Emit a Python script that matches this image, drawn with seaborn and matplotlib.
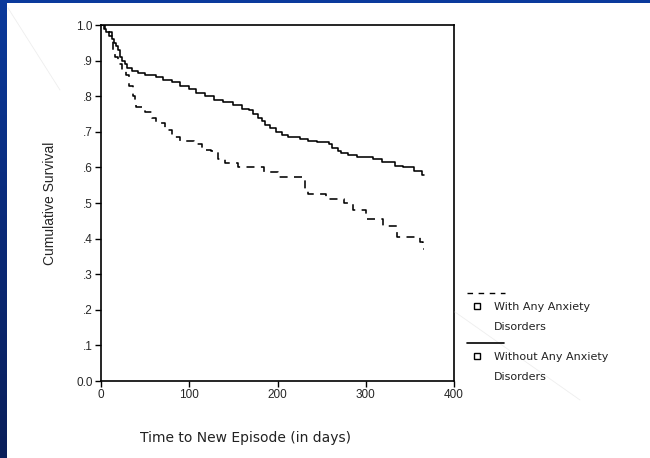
import numpy as np
import pandas as pd
import matplotlib
matplotlib.use("Agg")
import matplotlib.pyplot as plt
from matplotlib.lines import Line2D
from matplotlib.colors import LinearSegmentedColormap
import seaborn as sns

# ---- data ----
time_without = [0, 3, 6, 9, 12, 15, 17, 19, 21, 24, 27, 30, 35, 42, 50, 62, 70, 80, 90, 100,
                108, 118, 128, 138, 150, 160, 168, 172, 178, 182, 186, 192, 198, 205, 212, 226,
                234, 245, 258, 262, 268, 272, 280, 290, 308, 318, 333, 342, 355, 364, 366]
surv_without = [1.0, 0.99, 0.98, 0.97, 0.96, 0.95, 0.94, 0.93, 0.91, 0.90, 0.89, 0.88, 0.87,
                0.865, 0.86, 0.855, 0.845, 0.84, 0.83, 0.82, 0.81, 0.80, 0.79, 0.785, 0.775,
                0.765, 0.76, 0.75, 0.74, 0.73, 0.72, 0.71, 0.70, 0.69, 0.685, 0.68, 0.675, 0.67,
                0.665, 0.655, 0.645, 0.64, 0.635, 0.63, 0.625, 0.615, 0.605, 0.60, 0.59, 0.58, 0.58]

time_with = [0, 5, 9, 12, 14, 16, 19, 24, 28, 32, 36, 38, 40, 50, 58, 62, 73, 80, 90, 105,
             115, 125, 133, 140, 155, 185, 200, 231, 234, 255, 275, 285, 300, 320, 335, 362, 365, 366]
surv_with = [1.0, 0.99, 0.98, 0.96, 0.93, 0.91, 0.89, 0.875, 0.86, 0.83, 0.80, 0.78, 0.77,
             0.755, 0.74, 0.725, 0.705, 0.685, 0.675, 0.665, 0.65, 0.645, 0.625, 0.612, 0.60,
             0.587, 0.572, 0.54, 0.525, 0.51, 0.50, 0.48, 0.455, 0.435, 0.405, 0.39, 0.37, 0.37]

group_labels = [["With Any Anxiety", "Disorders"], ["Without Any Anxiety", "Disorders"]]
x_ticks = [0, 100, 200, 300, 400]
y_ticks = [0.0, 0.1, 0.2, 0.3, 0.4, 0.5, 0.6, 0.7, 0.8, 0.9, 1.0]
y_ticklabels = ["0.0", ".1", ".2", ".3", ".4", ".5", ".6", ".7", ".8", ".9", "1.0"]

df = pd.concat([
    pd.DataFrame({"t": time_with, "s": surv_with, "g": "with"}),
    pd.DataFrame({"t": time_without, "s": surv_without, "g": "without"}),
])

sns.set_style("white")
plt.rcParams["font.family"] = ["Liberation Sans", "DejaVu Sans"]

fig = plt.figure(figsize=(6.5, 4.58), dpi=100)
fig.patch.set_facecolor("white")

# slide decoration: blue strips
grad = np.linspace(0, 1, 256).reshape(-1, 1)
cmap = LinearSegmentedColormap.from_list("b", ["#0b3a9c", "#0a2a78", "#0a1f5a"])
bax = fig.add_axes([0, 0, 7 / 650, 1])
bax.imshow(grad, aspect="auto", cmap=cmap, extent=[0, 1, 0, 1])
bax.axis("off")
tax = fig.add_axes([0, 1 - 2.5 / 458, 1, 2.5 / 458])
tax.set_facecolor("#0b3a9c")
tax.set_xticks([]); tax.set_yticks([])
for s in tax.spines.values():
    s.set_visible(False)

# faint diagonal lines of the slide background
fig.add_artist(Line2D([8 / 650, 60 / 650], [1 - 8 / 458, 1 - 90 / 458], color="#eeeeee", lw=0.6))
fig.add_artist(Line2D([455 / 650, 580 / 650], [1 - 312 / 458, 1 - 400 / 458], color="#eeeeee", lw=0.6))

ax = fig.add_axes([101 / 650, 1 - 381 / 458, 353 / 650, 356 / 458])
sub_with = df[df.g == "with"]
sub_without = df[df.g == "without"]
sns.lineplot(data=sub_without, x="t", y="s", ax=ax, color="black", lw=1.15,
             drawstyle="steps-post", estimator=None, sort=False)
sns.lineplot(data=sub_with, x="t", y="s", ax=ax, color="black", lw=1.15,
             drawstyle="steps-post", estimator=None, sort=False)
ax.lines[-1].set_dashes([5, 4])

ax.set_xlim(0, 400)
ax.set_ylim(0, 1.0)
ax.set_xticks(x_ticks)
ax.set_xticklabels([str(v) for v in x_ticks], fontsize=8.5)
ax.set_yticks(y_ticks)
ax.set_yticklabels(y_ticklabels, fontsize=8.5)
ax.tick_params(axis="both", direction="out", length=4, width=1, color="black",
               bottom=True, left=True, pad=2)
for s in ax.spines.values():
    s.set_visible(True)
    s.set_color("black")
    s.set_linewidth(1.2)
ax.set_xlabel("")
ax.set_ylabel("Cumulative Survival", fontsize=10, labelpad=14)
fig.text(245 / 650, 1 - 438 / 458, "Time to New Episode (in days)", fontsize=10,
         family=["DejaVu Sans"], ha="center", va="center", color="#222222")

# legend drawn to the right
def fx(px):
    return px / 650
def fy(py):
    return 1 - py / 458

fig.add_artist(Line2D([fx(467), fx(505)], [fy(293), fy(293)], color="black", lw=1, dashes=[4, 4]))
fig.add_artist(Line2D([fx(467), fx(504)], [fy(343), fy(343)], color="black", lw=1.2))
for py, lines in zip([307, 357], group_labels):
    fig.add_artist(Line2D([fx(477)], [fy(py - 1)], marker="s", markersize=4.5,
                          markerfacecolor="white", markeredgecolor="black", markeredgewidth=1,
                          linestyle="none"))
    fig.text(fx(494), fy(py), lines[0], fontsize=8, family=["DejaVu Sans"],
             ha="left", va="center", color="#222222")
    fig.text(fx(494), fy(py + 20), lines[1], fontsize=8, family=["DejaVu Sans"],
             ha="left", va="center", color="#222222")

fig.savefig("out.png", dpi=100)
